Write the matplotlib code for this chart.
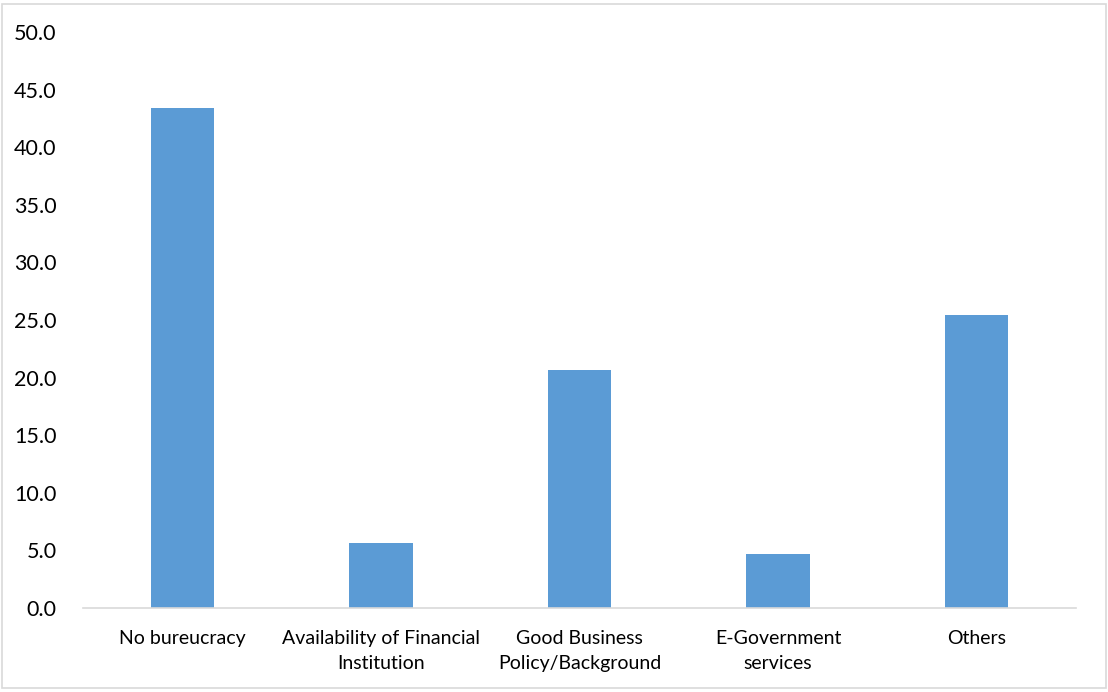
import matplotlib
matplotlib.use('Agg')
import matplotlib.pyplot as plt  # NOQA
from matplotlib.patches import Rectangle  # NOQA
from matplotlib.ticker import FormatStrFormatter  # NOQA

categories = ['No bureucracy', 'Availability of Financial\nInstitution',
              'Good Business\nPolicy/Background', 'E-Government\nservices',
              'Others']
values = [43.4, 5.6, 20.7, 4.7, 25.4]
yticks = [0, 5, 10, 15, 20, 25, 30, 35, 40, 45, 50]

BAR = '#5B9BD5'
GRAY = '#D9D9D9'

plt.rcParams['font.family'] = ['Lato', 'DejaVu Sans']

fig = plt.figure(figsize=(11.08, 6.92), dpi=100)
ax = fig.add_axes([83 / 1108, 1 - 608 / 692, 993 / 1108, 576 / 692])

x = range(len(categories))
ax.bar(x, values, width=0.32, color=BAR)

ax.set_xlim(-0.5, len(categories) - 0.5)
ax.set_ylim(0, 50)
ax.set_yticks(yticks)
ax.yaxis.set_major_formatter(FormatStrFormatter('%.1f'))
ax.set_xticks(list(x))
ax.set_xticklabels(categories, fontsize=14, linespacing=1.55)
ax.tick_params(axis='y', length=0, labelsize=15.5, pad=19)
ax.tick_params(axis='x', length=0, pad=16)

for side in ('top', 'right', 'left'):
    ax.spines[side].set_visible(False)
ax.spines['bottom'].set_color(GRAY)
ax.spines['bottom'].set_linewidth(1.2)

# outer frame of the chart area
fig.patches.append(Rectangle((2 / 1108, 4 / 692), 1104 / 1108, 684 / 692,
                             transform=fig.transFigure, fill=False,
                             edgecolor=GRAY, linewidth=1.2))

fig.savefig('out.png', dpi=100)
plt.close(fig)
